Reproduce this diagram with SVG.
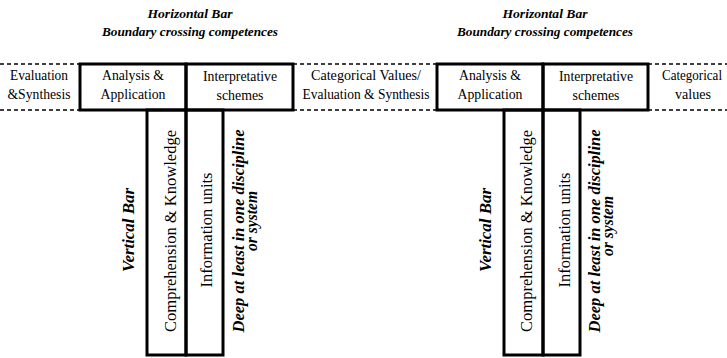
<svg xmlns="http://www.w3.org/2000/svg" width="727" height="358" viewBox="0 0 727 358">
<style>
.bg{fill:#fff}
.box{fill:none;stroke:#000;stroke-width:3}
.dash{stroke:#000;stroke-width:1.3;stroke-dasharray:4,3;fill:none}
text{font-family:'Liberation Serif','Times New Roman',serif;fill:#000;text-anchor:middle}
.t{font-size:14px}
.title{font-size:13.3px;font-weight:bold;font-style:italic}
.v{font-size:16.5px}
.vb{font-size:16.5px;font-weight:bold;font-style:italic}
</style>
<rect class="bg" x="0" y="0" width="727" height="358"/>
<g id="connectors">
<path class="dash" d="M0,64H80M293,64H437M648,64H727M0,110H80M293,110H437M648,110H727"/>
</g>
<g id="title-left">
<text class="title" x="190" y="18" textLength="85" lengthAdjust="spacingAndGlyphs">Horizontal Bar</text>
<text class="title" x="190" y="36" textLength="176" lengthAdjust="spacingAndGlyphs">Boundary crossing competences</text>
</g>
<g id="title-right">
<text class="title" x="545" y="18" textLength="85" lengthAdjust="spacingAndGlyphs">Horizontal Bar</text>
<text class="title" x="545" y="36" textLength="176" lengthAdjust="spacingAndGlyphs">Boundary crossing competences</text>
</g>
<g id="eval-synth">
<text class="t" x="39" y="80" textLength="58" lengthAdjust="spacingAndGlyphs">Evaluation</text>
<text class="t" x="39" y="99" textLength="63" lengthAdjust="spacingAndGlyphs">&amp;Synthesis</text>
</g>
<g id="categorical-values-mid">
<text class="t" x="366" y="80" textLength="110" lengthAdjust="spacingAndGlyphs">Categorical Values/</text>
<text class="t" x="366" y="99" textLength="127" lengthAdjust="spacingAndGlyphs">Evaluation &amp; Synthesis</text>
</g>
<g id="categorical-values-right">
<text class="t" x="692" y="80" textLength="60" lengthAdjust="spacingAndGlyphs">Categorical</text>
<text class="t" x="693" y="99" textLength="36" lengthAdjust="spacingAndGlyphs">values</text>
</g>
<g id="left-analysis">
<rect class="box" x="80" y="64" width="106" height="46"/>
<text class="t" x="133" y="80" textLength="62" lengthAdjust="spacingAndGlyphs">Analysis &amp;</text>
<text class="t" x="133" y="99" textLength="65" lengthAdjust="spacingAndGlyphs">Application</text>
</g>
<g id="left-interpretative">
<rect class="box" x="186" y="64" width="107" height="46"/>
<text class="t" x="240" y="81" textLength="74" lengthAdjust="spacingAndGlyphs">Interpretative</text>
<text class="t" x="240" y="100" textLength="47" lengthAdjust="spacingAndGlyphs">schemes</text>
</g>
<g id="left-comprehension">
<rect class="box" x="147" y="110" width="39" height="245"/>
<text class="v" transform="translate(176,231) rotate(-90)" textLength="202" lengthAdjust="spacingAndGlyphs">Comprehension &amp; Knowledge</text>
</g>
<g id="left-information">
<rect class="box" x="186" y="110" width="37" height="245"/>
<text class="v" transform="translate(212,230) rotate(-90)" textLength="115" lengthAdjust="spacingAndGlyphs">Information units</text>
</g>
<g id="left-vertical-label">
<text class="vb" transform="translate(134,230) rotate(-90)" textLength="84" lengthAdjust="spacingAndGlyphs">Vertical Bar</text>
</g>
<g id="left-deep-label">
<text class="vb" transform="translate(244,231) rotate(-90)" textLength="203" lengthAdjust="spacingAndGlyphs">Deep at least in one discipline</text>
<text class="vb" transform="translate(257,221) rotate(-90)" textLength="60" lengthAdjust="spacingAndGlyphs">or system</text>
</g>
<g id="right-analysis">
<rect class="box" x="437" y="64" width="106" height="46"/>
<text class="t" x="490" y="80" textLength="62" lengthAdjust="spacingAndGlyphs">Analysis &amp;</text>
<text class="t" x="490" y="99" textLength="65" lengthAdjust="spacingAndGlyphs">Application</text>
</g>
<g id="right-interpretative">
<rect class="box" x="543" y="64" width="105" height="46"/>
<text class="t" x="596" y="81" textLength="74" lengthAdjust="spacingAndGlyphs">Interpretative</text>
<text class="t" x="596" y="100" textLength="47" lengthAdjust="spacingAndGlyphs">schemes</text>
</g>
<g id="right-comprehension">
<rect class="box" x="504" y="110" width="39" height="245"/>
<text class="v" transform="translate(532,231) rotate(-90)" textLength="202" lengthAdjust="spacingAndGlyphs">Comprehension &amp; Knowledge</text>
</g>
<g id="right-information">
<rect class="box" x="543" y="110" width="37" height="245"/>
<text class="v" transform="translate(570,230) rotate(-90)" textLength="115" lengthAdjust="spacingAndGlyphs">Information units</text>
</g>
<g id="right-vertical-label">
<text class="vb" transform="translate(491,230) rotate(-90)" textLength="84" lengthAdjust="spacingAndGlyphs">Vertical Bar</text>
</g>
<g id="right-deep-label">
<text class="vb" transform="translate(600,231) rotate(-90)" textLength="203" lengthAdjust="spacingAndGlyphs">Deep at least in one discipline</text>
<text class="vb" transform="translate(613,226) rotate(-90)" textLength="60" lengthAdjust="spacingAndGlyphs">or system</text>
</g>
</svg>
